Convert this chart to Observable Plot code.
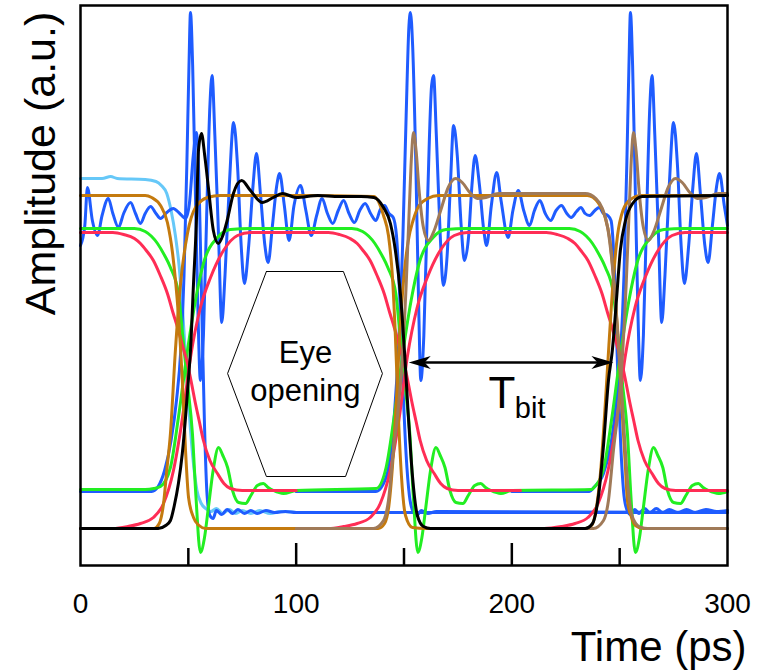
<!DOCTYPE html>
<html><head><meta charset="utf-8">
<script src="https://cdn.jsdelivr.net/npm/d3@7"></script>
<script src="https://cdn.jsdelivr.net/npm/@observablehq/plot@0.6"></script>
<style>body{margin:0;background:#fff} #chart svg{display:block}</style>
</head><body><div id="chart"></div><script>
// ---- data: time (ps), amplitude (a.u.) ----
const xTickLabels = [0, 100, 200, 300];
const majorTicks = [100, 200];
const minorTicks = [50, 150, 250];

const black = [[0,37],[36,37],[39.5,40],[41.7,45],[43.5,60],[45.4,82],[47.2,112],[48.7,148],[50,185],[51,215],[52.4,282],[53.8,348],[54.7,415],[56.1,432],[57.6,410],[59.3,378],[61.6,335],[63.9,322],[66,330],[68,345],[70.9,372],[74.7,385],[78.8,375],[84.3,363],[89.4,368],[93.6,372],[100,368],[110,370],[120,369],[130,369],[136,368],[140.5,358],[143.7,342],[146,315],[148.4,270],[150.2,215],[152,150],[153.9,90],[156.2,50],[159,39],[162.3,37],[234,37],[237.4,42],[240.2,70],[242.5,120],[244.8,185],[246.6,215],[248.5,265],[250.3,315],[252.7,345],[256,362],[260.5,369],[300,370]];

const orangeA = [[0,370],[30,370],[33,368],[37.1,360],[40.3,343],[42.7,312],[45.4,250],[47.3,182],[48.7,115],[50.1,68],[52.4,48],[55,40],[58,37],[100,37]];
const orangeB = [[0,37],[34,37],[36.5,42],[38.5,62],[40,95],[41.7,132],[44,215],[46.4,282],[49.6,332],[53.3,358],[58.9,368],[64.9,370],[100,370],[136,369],[140.5,350],[142.8,330],[144.6,290],[146,230],[147.4,150],[148.8,90],[150.7,50],[153.9,38],[160,37],[234,37],[237,40],[239,55],[241,90],[243,150],[245,220],[247,285],[249,330],[251.5,355],[255,366],[260,370],[300,370]];
const orangeC = [[100,37],[138,37],[141,42],[143,60],[145,110],[146.6,170],[148,230],[150,290],[152,325],[154.2,345],[157,360],[161,367],[166,370],[235,370],[240,363],[243,350],[245.5,325],[247.5,280],[249.5,220],[251,160],[252.5,105],[253.6,65],[255.5,48],[257.3,40],[261,37],[300,37]];
const tanA = [[100,37],[135.8,37],[140.5,45],[142.8,65],[145.1,115],[147,150],[149,200],[151,280],[152.5,360],[153.5,410],[154.4,433],[155.6,415],[157,375],[159,338],[161.3,325],[164,335],[167,355],[170.5,378],[173.9,387],[177,383],[180.5,373],[184,367],[188,368],[193.8,372],[200,372],[234,372],[239,367],[242,357],[244.5,337],[246.5,302],[248.5,250],[250.5,190],[252.2,130],[253.8,80],[255.5,52],[257.5,42],[260,38],[263,37],[300,37]];
const tanB = [[200,37],[237.8,37],[242.5,45],[244.8,65],[247.1,115],[249,150],[251,200],[253,280],[254.5,360],[255.5,410],[256.4,433],[257.6,415],[259,375],[261,338],[263.3,325],[266,335],[269,355],[272.5,378],[275.9,387],[279,383],[282.5,373],[286,367],[290,368],[295.8,372],[300,372]];

const lightBlue = [[0,387],[10,387],[14,389],[17,387],[30,386],[35,384],[37.5,380],[40,372],[42,355],[44,330],[45.7,300],[47.5,250],[49,200],[50.5,150],[52,110],[54,75],[56,62],[58,57],[60.5,54],[63,57],[66,52],[69,56],[72,52],[75,55],[79,52],[83,55],[88,52],[93,54],[100,53]];

const blue0 = [[0,320],[2,340],[3.2,378],[5.5,345],[7.9,330],[10,350],[12.9,367],[15,352],[17.6,338],[20,352],[23.2,363],[25.5,352],[27.8,342],[30,352],[32.5,359],[35,352],[37.1,347],[40,353],[43,357],[46,352],[48.7,347],[50.5,362],[52.3,410],[53.7,433],[55,380],[56.3,250],[57.5,140],[58.7,70],[60,50],[61.5,47],[63,55],[65.5,51],[68,56],[70.5,52],[73,56],[76,52],[79,55],[82,52],[86,55],[90,53],[95,54],[100,53],[300,53]];
const blueRing1 = [[0,74],[33,74],[36,79],[39,95],[42,125],[44.5,165],[46.5,215],[48,290],[49.3,400],[50.3,500],[51,553],[52,500],[53.3,370],[54.5,250],[55.6,185],[57,230],[58.5,350],[60,460],[61,490],[62.3,430],[64,330],[65.5,243],[67,290],[69,380],[71,443],[72.8,400],[74.5,320],[76,282],[78,320],[80,380],[81.6,412],[83.5,370],[85.5,320],[87,303],[89,340],[91,380],[92.3,392],[94.5,360],[96.7,325],[99,360],[102,380],[104.5,355],[107,330],[109.5,350],[112,367],[114.5,352],[117,342],[119.5,355],[122,365],[124.5,352],[127,343],[129.5,355],[132,362],[134.5,352],[137,345],[139,356],[141,360],[143,352],[145,348],[146.5,330],[148,270],[149.5,180],[151,110],[152.5,70],[154,55],[156,50],[158,55],[161,52],[165,54],[300,53]];
const blueRing2 = [[100,74],[137,74],[140,80],[143,100],[145.5,150],[147.5,220],[149.5,330],[151,450],[152.3,540],[153,553],[154,520],[155.5,400],[156.8,260],[157.8,185],[159.2,230],[161,370],[162.8,480],[163.7,490],[165,430],[166.8,330],[168.2,280],[170,310],[171.5,380],[173,440],[174.7,410],[176.5,340],[178,305],[180,330],[181.5,380],[183,410],[185,380],[187,335],[188.3,320],[190.5,360],[193,393],[195,365],[198.3,328],[200.5,355],[203,375],[205.5,355],[208.2,340],[210.5,355],[213,365],[215.5,352],[218,345],[220.5,355],[223,360],[225.5,352],[227.5,348],[230,354],[232,358],[234,352],[236,350],[238.5,355],[240.5,358],[242.5,352],[244.5,350],[246,345],[247.5,300],[249,200],[250.5,120],[252,70],[253.5,55],[255,51],[257,56],[259,52],[261.5,57],[264,53],[267,57],[270,53],[273,56],[277,53],[281,56],[285,53],[290,56],[295,54],[300,55]];
const blueRing3 = [[200,74],[236,74],[238,78],[242.5,92],[246,122],[248.5,165],[250.5,215],[252,290],[253.3,400],[254.3,500],[255,553],[256,500],[257.3,370],[258.5,250],[259.6,185],[261,230],[262.5,350],[264,460],[265,490],[266.3,430],[268,330],[269.5,243],[271,290],[273,380],[275,443],[276.8,400],[278.5,320],[280,282],[282,320],[284,380],[285.6,412],[287.5,370],[289.5,320],[291,303],[293,340],[295,380],[296.3,392],[298.5,360],[300,340]];

const red1 = [[0,333],[15,333],[20,331],[25,327],[27.8,322],[30.5,315],[33.8,305],[37,290],[40.3,272],[43,252],[45,238],[47.3,220],[49.6,202],[51.5,182],[53.3,162],[55,145],[57,125],[60,105],[63.5,92],[66.5,82],[69.5,77],[75,75],[100,75]];
const red2 = [[0,37],[15,37],[22,39],[27.8,42],[33.8,48],[38.5,62],[43.1,95],[47.3,148],[51,208],[55.6,258],[60.3,288],[66.3,315],[72.8,330],[78.8,333],[115,333],[120,331],[125,327],[128.3,322],[131,315],[134.3,305],[137.5,290],[140.8,272],[143.5,252],[145.5,238],[147.8,220],[150.1,202],[152,182],[153.8,162],[155.5,145],[157.5,125],[160.5,105],[164,92],[167,82],[170,77],[175,75],[204,75]];
const red3 = [[100,37],[115,37],[122,39],[128.3,42],[134.3,48],[139,62],[143.6,95],[147.8,148],[151.5,208],[156.1,258],[160.8,288],[166.8,315],[173.3,330],[179.3,333],[216,333],[221,331],[226,327],[229.3,322],[232,315],[235.3,305],[238.5,290],[241.8,272],[244.5,252],[246.5,238],[248.8,220],[251.1,202],[253,182],[254.8,162],[256.5,145],[258.5,125],[261.5,105],[265,92],[268,82],[271,77],[276,75],[300,75]];
const red4 = [[200,37],[215,37],[223,39],[229.3,42],[235.3,48],[240,62],[244.6,95],[248.8,148],[252.5,208],[257.1,258],[261.8,288],[267.8,315],[274.3,330],[280.3,333],[300,333]];

const green1 = [[0,337],[25,337],[30,334],[35.7,322],[39,310],[41.7,298],[45.4,272],[47.3,232],[49.6,182],[51.9,132],[53.5,70],[55.6,13],[57.5,28],[59.3,58],[61.5,95],[64,118],[66,110],[68.2,98],[70.5,75],[73.3,63],[76.5,62],[79,70],[82,80],[84.8,82],[87,78],[89.5,75],[94.1,72],[100,75],[137.1,77],[141.7,98],[145.4,148],[149.6,215],[153.3,265],[157,302],[163.5,328],[169.5,336],[178.8,337],[226.7,337],[231.7,334],[237.4,322],[240.7,310],[243.4,298],[247.1,272],[249,232],[251.3,182],[253.6,132],[255.2,70],[257.3,13],[259.2,28],[261,58],[263.2,95],[265.7,118],[267.7,110],[270,98],[272.2,75],[275,63],[278.2,62],[280.7,70],[283.7,80],[286.5,82],[288.7,78],[291.2,75],[295.8,72],[300,74]];
const green2 = [[0,76],[30,76],[34,77],[37.1,79],[41.7,98],[45.4,148],[49.6,215],[53.3,265],[57,302],[63.5,328],[69.5,336],[78.8,337],[125.8,337],[130.8,334],[136.5,322],[139.8,310],[142.5,298],[146.2,272],[148.1,232],[150.4,182],[152.7,132],[154.3,70],[156.4,13],[158.3,28],[160.1,58],[162.3,95],[164.8,118],[166.8,110],[169,98],[171.3,75],[174.1,63],[177.3,62],[179.8,70],[182.8,80],[185.6,82],[187.8,78],[190.3,75],[194.9,72],[200,75],[237,76],[238.1,78],[242.7,98],[246.4,148],[250.6,215],[254.3,265],[258,302],[264.5,328],[270.5,336],[279.8,337],[300,337]];

// annotations
const hexagon = [[86.2,294],[121.9,294],[140,192],[122.9,89],[86.2,89],[68.2,192],[86.2,294]];
const eyeLabel = [{t:104.3, a:203, text:"Eye"}, {t:104.3, a:165, text:"opening"}];
const tBitSpan = [152.2, 247.1];
const tBitLevel = 203;

// ---- styles ----
const C = {blue:"#1f5cff", light:"#66c8f8", green:"#22ee22", red:"#ff2d55", orange:"#c47a0e", tan:"#a07a58", black:"#000"};
const sw = 3;
const ln = (data, color, w = sw) => Plot.line(data, {x: d => d[0], y: d => d[1], stroke: color, strokeWidth: w, curve: "monotone-x", strokeLinejoin: "round"});

const stealthRight = {draw(ctx){ const L=22, W=13; ctx.moveTo(0,0); ctx.lineTo(-L,-W/2); ctx.lineTo(-L*0.72,0); ctx.lineTo(-L,W/2); ctx.closePath(); }};
const stealthLeft = {draw(ctx){ const L=22, W=13; ctx.moveTo(0,0); ctx.lineTo(L,-W/2); ctx.lineTo(L*0.72,0); ctx.lineTo(L,W/2); ctx.closePath(); }};

const font = "'Liberation Sans', Arial, Helvetica, sans-serif";
const narrow = "'Liberation Sans Narrow', 'Arial Narrow', 'Liberation Sans', Arial, sans-serif";

const chart = Plot.plot({
  width: 757, height: 670,
  marginLeft: 80, marginRight: 30, marginTop: 5, marginBottom: 105,
  x: {domain: [0, 300], axis: null},
  y: {domain: [0, 560], axis: null},
  style: {fontFamily: font, background: "#fff", color: "#000"},
  marks: [
    ln(lightBlue, C.light),
    ln(blue0, C.blue), ln(blueRing1, C.blue), ln(blueRing2, C.blue), ln(blueRing3, C.blue),
    ln(green2, C.green), ln(green1, C.green),
    ln(red1, C.red), ln(red2, C.red), ln(red3, C.red), ln(red4, C.red),
    ln(orangeA, C.orange), ln(orangeB, C.orange), ln(orangeC, C.orange),
    ln(tanA, C.tan), ln(tanB, C.tan),
    ln(black, C.black, 3),
    Plot.line(hexagon, {x: d => d[0], y: d => d[1], stroke: "black", strokeWidth: 1}),
    Plot.text(eyeLabel, {x: "t", y: "a", text: "text", fontSize: 31, textAnchor: "middle", lineAnchor: "bottom", fill: "black"}),
    Plot.ruleY([tBitLevel], {x1: tBitSpan[0] + 3, x2: tBitSpan[1] - 3, stroke: "black", strokeWidth: 2.5}),
    Plot.dot([[tBitSpan[1], tBitLevel]], {x: d => d[0], y: d => d[1], symbol: stealthRight, r: 5, fill: "black", stroke: "none"}),
    Plot.dot([[tBitSpan[0], tBitLevel]], {x: d => d[0], y: d => d[1], symbol: stealthLeft, r: 5, fill: "black", stroke: "none"}),
    Plot.text(["T"], {x: 201.7, y: 158, text: d => d, fontSize: 44, textAnchor: "end", lineAnchor: "bottom", fill: "black"}),
    Plot.text(["bit"], {x: 201.4, y: 148, text: d => d, fontSize: 29, textAnchor: "start", lineAnchor: "bottom", fill: "black"}),
    Plot.ruleX(majorTicks, {x: d => d, y1: 0, y2: 22, stroke: "black", strokeWidth: 2.5}),
    Plot.ruleX(minorTicks, {x: d => d, y1: 0, y2: 17, stroke: "black", strokeWidth: 2.5}),
    Plot.frame({stroke: "black", strokeWidth: 2.5}),
    Plot.text(xTickLabels, {x: d => d, frameAnchor: "bottom", dy: 28, lineAnchor: "top", text: d => String(d), fontSize: 28, fontFamily: narrow, fill: "black"}),
    Plot.text(["Time (ps)"], {frameAnchor: "bottom-right", dx: 19, dy: 95, textAnchor: "end", lineAnchor: "bottom", fontSize: 42, fill: "black"}),
    Plot.text(["Amplitude (a.u.)"], {frameAnchor: "top-left", dx: -26, dy: 158, rotate: -90, textAnchor: "middle", lineAnchor: "bottom", fontSize: 43, fill: "black"})
  ]
});
document.getElementById("chart").appendChild(chart);
</script></body></html>
